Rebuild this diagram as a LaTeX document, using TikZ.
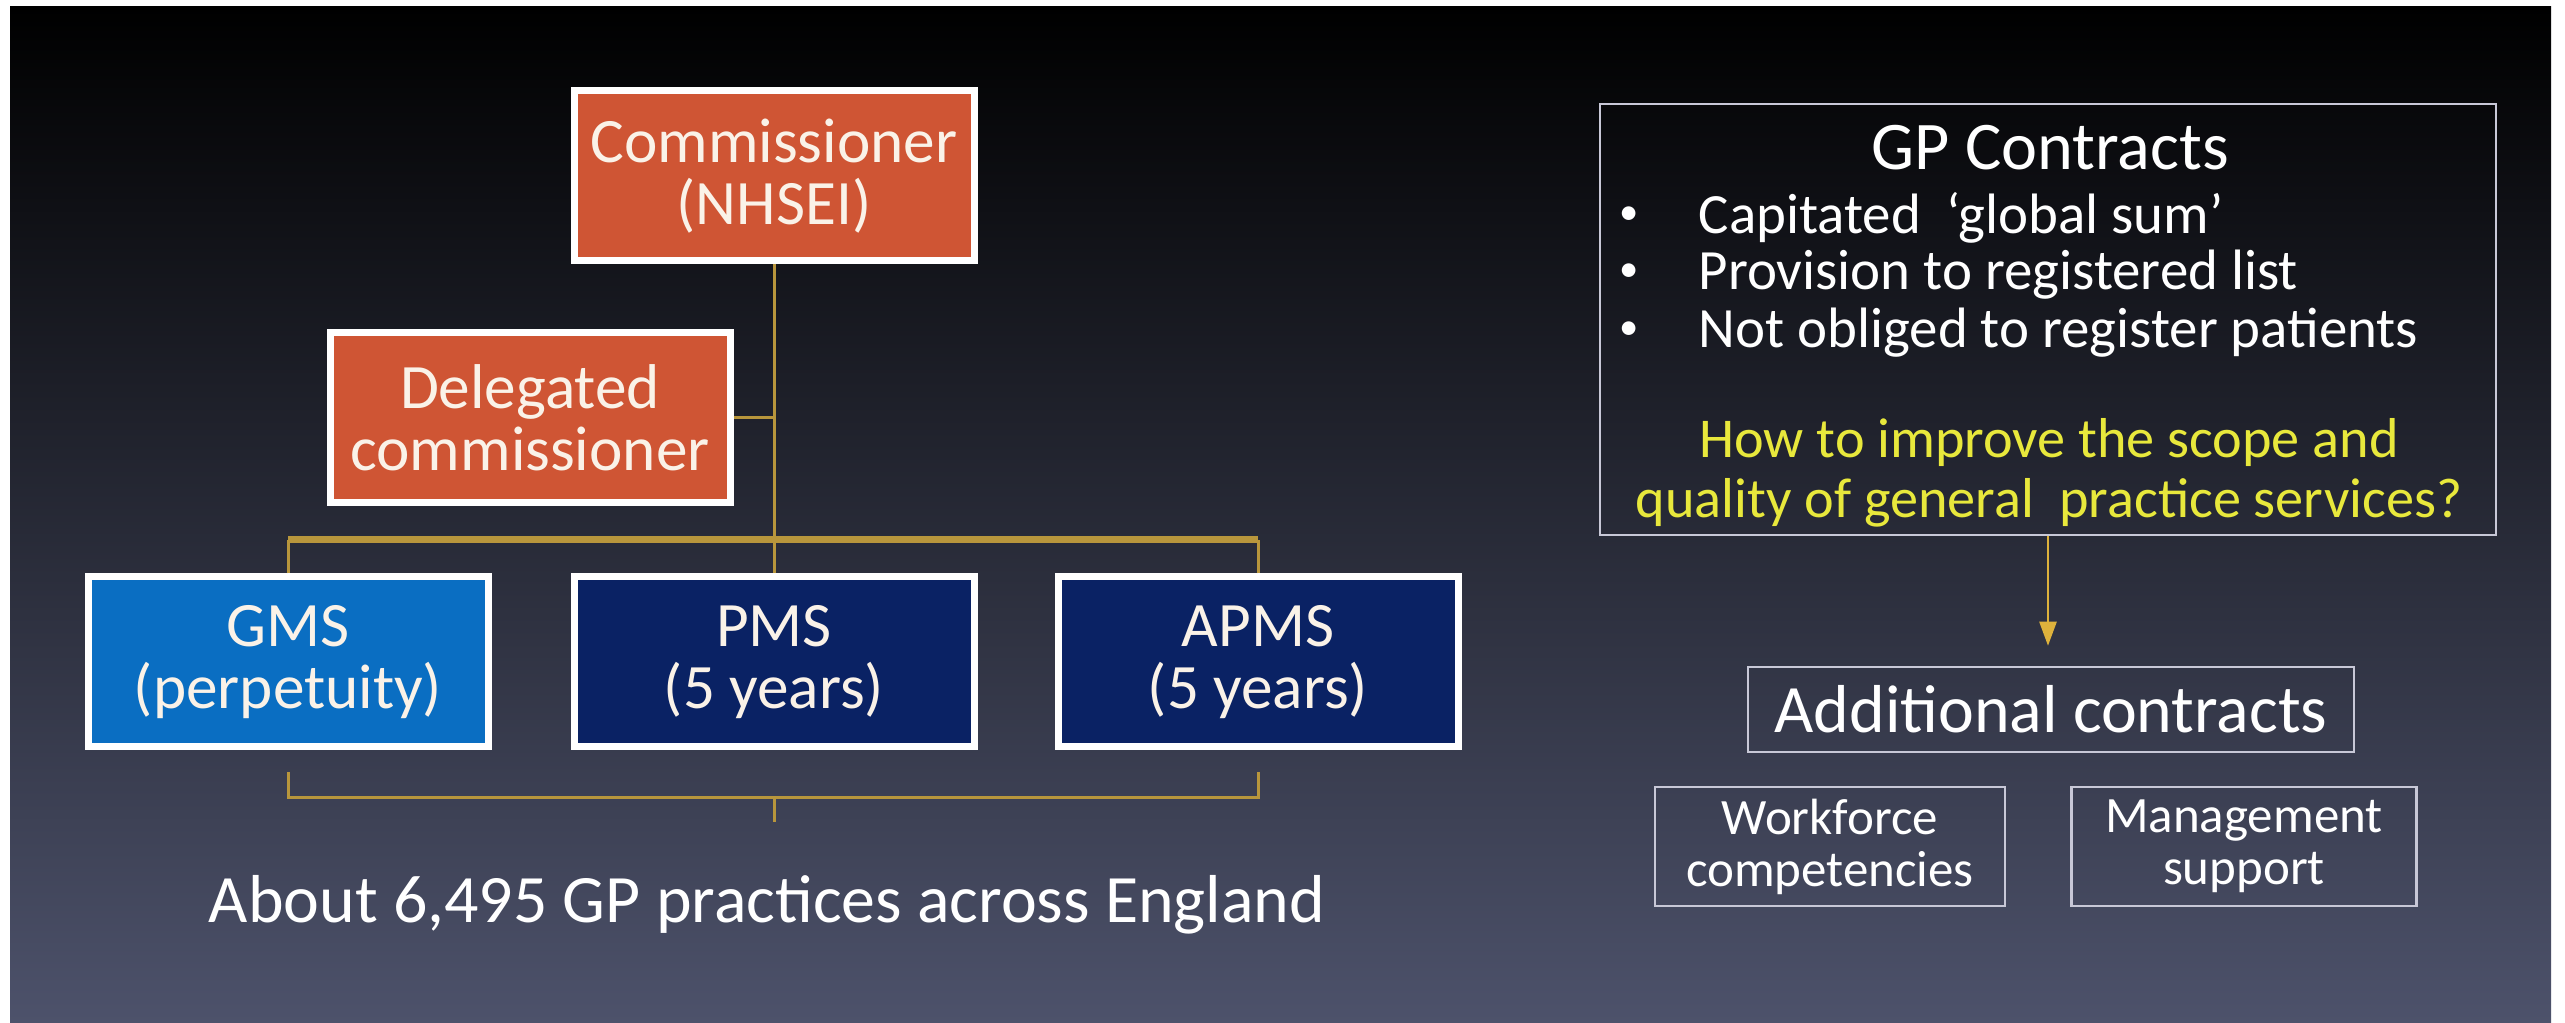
\documentclass[tikz,border=0pt]{standalone}
\usepackage{fontspec}
\setmainfont{Carlito}
\usetikzlibrary{arrows.meta,positioning}
\definecolor{slidemid}{RGB}{30,28,46}
\definecolor{slidebot}{RGB}{77,82,107}
\definecolor{orgfill}{RGB}{207,85,52}
\definecolor{gmsfill}{RGB}{10,110,194}
\definecolor{navyfill}{RGB}{10,34,100}
\definecolor{goldline}{RGB}{184,150,60}
\definecolor{arrowgold}{RGB}{222,178,60}
\definecolor{paleline}{RGB}{200,200,215}
\definecolor{qyellow}{RGB}{232,232,60}
\definecolor{cream}{RGB}{250,242,232}
\tikzset{
  boxnode/.style = {align=center, inner sep=0pt, text centered},
  box_org/.style = {boxnode, rectangle, text=cream, draw=white, fill=orgfill, line width=0.07cm,
    minimum width=4cm, minimum height=1.7cm, font=\fontsize{18}{17.6}\selectfont},
  box_gms/.style = {box_org, fill=gmsfill},
  box_navy/.style = {box_org, fill=navyfill},
  box_thin/.style = {boxnode, rectangle, text=white, draw=paleline, line width=0.025cm},
  txt_w/.style = {boxnode, text=white, font=\fontsize{16.2}{17}\selectfont},
  dot_w/.style = {boxnode, text=white, font=\fontsize{11}{12}\selectfont},
  link/.style = {draw=goldline, line width=0.03cm},
  bar/.style = {draw=goldline, line width=0.07cm},
}

\begin{document}
\begin{tikzpicture}
  \useasboundingbox (0,0) rectangle (25.65,-10.23);
  \fill [white] (0,0) rectangle (25.65,-10.23);
  \shade [top color=black, middle color=slidemid, bottom color=slidebot] (0.10,-0.07) rectangle (25.51,-10.23);

  % left: commissioning tree
  \node [box_org] (comm) at (7.74,-1.76) {Commissioner\\(NHSEI)};
  \node [box_org] (deleg) at (5.30,-4.18) {Delegated\\commissioner};
  \node [box_gms] (gms) at (2.88,-6.62) {GMS\\(perpetuity)};
  \node [box_navy] (pms) at (7.74,-6.62) {PMS\\(5 years)};
  \node [box_navy] (apms) at (12.58,-6.62) {APMS\\(5 years)};

  \coordinate (bar) at (7.74,-5.40);
  \draw [link] (comm) -- (pms);
  \draw [link] (deleg.east) -- (deleg.east -| comm.south);
  \draw [bar] (gms.north |- bar) -- (apms.north |- bar);
  \draw [link] (gms.north) -- (gms.north |- bar);
  \draw [link] (apms.north) -- (apms.north |- bar);

  % bracket under the contracts
  \coordinate (brace_l) at ([yshift=-0.22cm]gms.south);
  \coordinate (brace_r) at ([yshift=-0.22cm]apms.south);
  \coordinate (brace_m) at (7.74,-7.98);
  \coordinate (brace_tip) at (7.74,-8.22);
  \draw [link] (brace_l) |- (brace_m) -| (brace_r);
  \draw [link] (brace_m) -- (brace_tip);
  \node [boxnode, text=white, font=\fontsize{19.3}{22}\selectfont] (total) at (7.67,-9.05)
    {About 6,495 GP practices across England};

  % right: contracts
  \node [box_thin, minimum width=8.96cm, minimum height=4.31cm] (gp) at (20.48,-3.195) {};
  \node [txt_w, font=\fontsize{19.4}{20}\selectfont] (gptitle) at (20.50,-1.48) {GP Contracts};
  \node [dot_w] (d1) at (16.29,-2.16) {\textbullet};
  \node [dot_w] (d2) at (16.29,-2.73) {\textbullet};
  \node [dot_w] (d3) at (16.29,-3.31) {\textbullet};
  \node [txt_w, anchor=west] (b1) at (16.98,-2.18) {Capitated\ \ ‘global sum’};
  \node [txt_w, anchor=west] (b2) at (16.98,-2.75) {Provision to registered list};
  \node [txt_w, anchor=west] (b3) at (16.98,-3.33) {Not obliged to register patients};
  \node [boxnode, text=qyellow, font=\fontsize{16}{17}\selectfont] (quest) at (20.49,-4.73)
    {How to improve the scope and\\quality of general\ \ practice services?};

  \node [box_thin, minimum width=6.06cm, minimum height=0.85cm, font=\fontsize{19.3}{22}\selectfont]
    (addl) at (20.51,-7.095) {Additional contracts};
  \node [box_thin, minimum width=3.5cm, minimum height=1.19cm, font=\fontsize{14.5}{14.8}\selectfont]
    (work) at (18.30,-8.465) {Workforce\\competencies};
  \node [box_thin, minimum width=3.45cm, minimum height=1.19cm, font=\fontsize{14.5}{14.8}\selectfont]
    (mgmt) at (22.44,-8.465) {Management\\support};

  \draw [draw=arrowgold, line width=0.025cm, -{Triangle[width=0.17cm,length=0.24cm]}]
    (gp.south) -- ([yshift=0.2cm]gp.south |- addl.north);
\end{tikzpicture}
\end{document}
